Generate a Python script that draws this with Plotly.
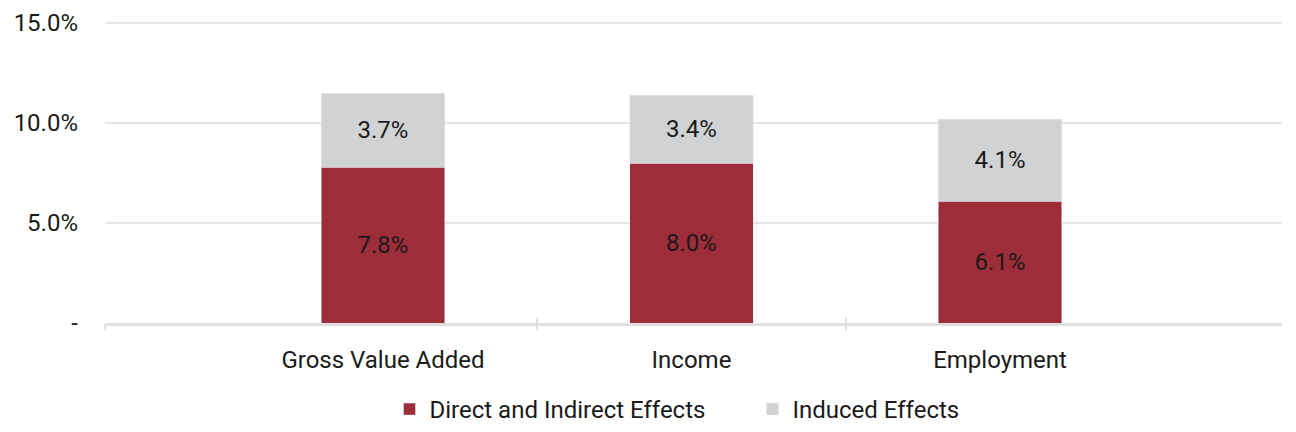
import plotly.graph_objects as go

categories = ["Gross Value Added", "Income", "Employment"]
direct_indirect = [7.8, 8.0, 6.1]
induced = [3.7, 3.4, 4.1]
series_names = ["Direct and Indirect Effects", "Induced Effects"]
y_tickvals = [0, 5, 10, 15]
y_ticktext = ["-", "5.0%", "10.0%", "15.0%"]

RED = "#9E2D3A"
GRAY = "#D1D2D4"
FONT = "Roboto"
FS = 24
xpos = list(range(len(categories)))

fig = go.Figure()
fig.add_trace(go.Bar(
    x=xpos, y=direct_indirect, name=series_names[0], marker_color=RED,
    width=0.4, text=[f"{v:.1f}%" for v in direct_indirect],
    textposition="inside", insidetextanchor="middle",
    textfont=dict(color="#1a1a1a", size=FS, family=FONT),
))
fig.add_trace(go.Bar(
    x=xpos, y=induced, name=series_names[1], marker_color=GRAY,
    width=0.4, text=[f"{v:.1f}%" for v in induced],
    textposition="inside", insidetextanchor="middle",
    textfont=dict(color="#1a1a1a", size=FS, family=FONT),
))
# invisible traces to activate tick-mark axes
for ax in ("x2", "x3"):
    fig.add_trace(go.Scatter(x=[0], y=[0], xaxis=ax, mode="markers",
                             marker=dict(opacity=0), showlegend=False, hoverinfo="skip"))

xr = [-0.901, 2.914]
boundary_ticks = [-0.901, 0.5, 1.5]
tick_axis = dict(range=xr, overlaying="x", side="bottom", tickvals=boundary_ticks,
                 showticklabels=False, tickwidth=2, tickcolor="#E0E0E0",
                 showgrid=False, showline=False, zeroline=False, automargin=False)
fig.update_layout(
    barmode="stack",
    width=1288, height=424,
    margin=dict(l=97, r=14, t=13, b=109, autoexpand=False),
    plot_bgcolor="white", paper_bgcolor="white",
    font=dict(family=FONT, size=FS, color="#1a1a1a"),
    uniformtext=dict(mode="show", minsize=10),
    xaxis=dict(range=xr, tickvals=xpos, ticktext=categories, showgrid=False,
               showline=True, linecolor="#E0E0E0", linewidth=3, ticks="",
               ticklabelstandoff=13, zeroline=False, automargin=False,
               tickfont=dict(size=FS, family=FONT)),
    xaxis2=dict(tick_axis, ticks="outside", ticklen=6),
    xaxis3=dict(tick_axis, ticks="inside", ticklen=5),
    yaxis=dict(range=[0, 15.1], tickvals=y_tickvals, ticktext=y_ticktext,
               showgrid=True, gridcolor="#E5E5E5", gridwidth=2, zeroline=False,
               ticklabelstandoff=26, automargin=False,
               tickfont=dict(size=FS, family=FONT)),
    legend=dict(orientation="h", xref="container", yref="container",
                x=0.2962, xanchor="left", y=0, yanchor="bottom",
                entrywidth=318, entrywidthmode="pixels",
                font=dict(size=FS, family=FONT), itemwidth=30, traceorder="normal"),
    showlegend=True,
)
fig.write_html("out.html")
